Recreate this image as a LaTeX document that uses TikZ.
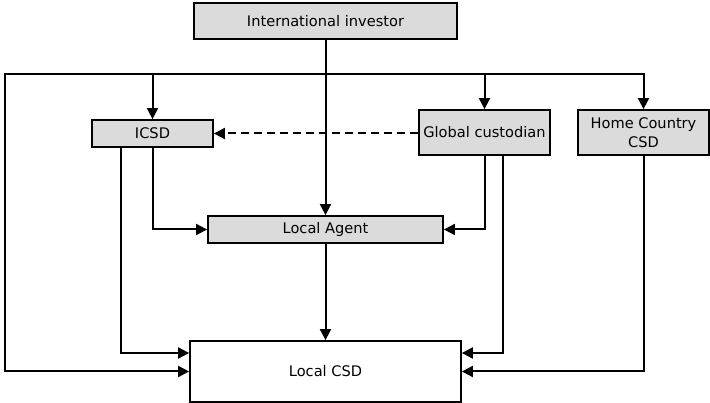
\documentclass[tikz,border=0pt]{standalone}
\usepackage{fontspec}
\setmainfont{DejaVu Sans}
\usetikzlibrary{arrows.meta}
\begin{document}
\begin{tikzpicture}[x=1pt,y=-1pt,
  box/.style={draw,line width=1.8pt,fill=gray!28,inner sep=0pt,align=center,font=\fontsize{14.6}{19}\selectfont},
  wbox/.style={box,fill=white},
  conn/.style={line width=2pt,-{Triangle[length=11pt,width=11pt]}},
  busline/.style={line width=2.4pt,line cap=rect}]
\useasboundingbox (0,0) rectangle (710,403);
\node[box,minimum width=263pt,minimum height=36pt] (inv) at (325.5,21) {International investor};
\node[box,minimum width=121pt,minimum height=27pt] (icsd) at (152.5,133.5) {ICSD};
\node[box,minimum width=131pt,minimum height=45pt] (gc) at (484.5,132.5) {Global custodian};
\node[box,minimum width=131pt,minimum height=45pt] (hc) at (643.5,132.5) {Home Country\\CSD};
\node[box,minimum width=235pt,minimum height=27pt] (la) at (325.5,229.5) {Local Agent};
\node[wbox,minimum width=271pt,minimum height=61pt] (lcsd) at (325.5,371.5) {Local CSD};
\coordinate (bl) at (5,74);
\coordinate (br) at (643.5,74);
\draw[busline] (bl) -- (br);
\draw[conn] (inv.south) -- (la.north);
\draw[conn] (icsd.north |- bl) -- (icsd.north);
\draw[conn] (gc.north |- bl) -- (gc.north);
\draw[conn] (hc.north |- bl) -- (hc.north);
\draw[conn] (bl) |- (lcsd.west);
\draw[conn] ([xshift=-32pt]icsd.south) |- ([yshift=18.5pt]lcsd.west);
\draw[conn] (icsd.south) |- (la.west);
\draw[conn] (gc.south) |- (la.east);
\draw[conn] ([xshift=18.5pt]gc.south) |- ([yshift=18.5pt]lcsd.east);
\draw[conn] (hc.south) |- (lcsd.east);
\draw[conn,dash pattern=on 8pt off 5pt] (gc.west |- icsd.east) -- (icsd.east);
\draw[conn] (la.south) -- (lcsd.north);
\end{tikzpicture}
\end{document}
